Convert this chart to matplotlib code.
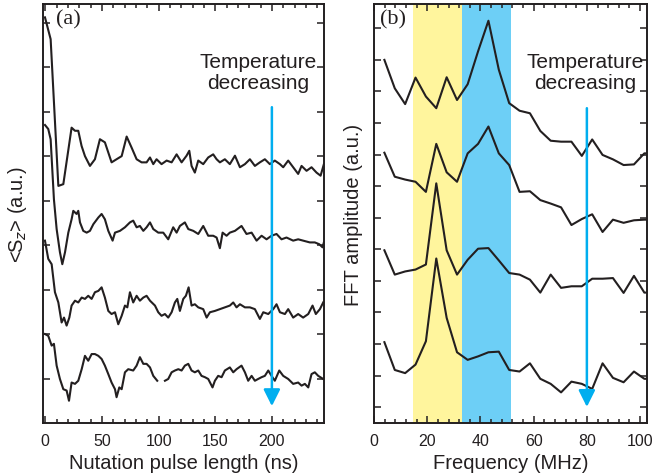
import numpy as np
import matplotlib
matplotlib.use("Agg")
import matplotlib.pyplot as plt
from matplotlib.ticker import MultipleLocator

plt.rcParams['font.family'] = ['Liberation Sans', 'DejaVu Sans']

# ---------------- panel (a): nutation traces (ns, a.u.) ----------------
t1_x = [-0.3, 4.7, 11.5, 15.9, 23.2, 26.2, 29.1, 32.0, 35.0, 39.4, 43.8, 48.2, 52.6, 58.5, 62.9,
        67.4, 71.8, 76.2, 80.6, 85.0, 89.4, 92.4, 95.3, 98.2, 102.6, 107.1, 111.5, 115.9, 120.3,
        124.7, 127.1, 129.1, 132.0, 135.0, 139.4, 143.8, 148.2, 151.2, 154.1, 158.5, 162.9, 167.4,
        171.8, 176.2, 180.6, 185.0, 189.4, 193.8, 198.2, 202.6, 207.1, 210.0, 214.4, 218.8, 223.2,
        226.2, 230.6, 235.0, 239.4, 243.0, 245.9]
t1_y = [9.12, 8.63, 5.33, 5.37, 6.64, 6.57, 6.57, 6.23, 6.00, 5.78, 5.93, 6.38, 6.31, 5.86, 5.93,
        6.00, 6.44, 6.19, 5.93, 5.86, 5.86, 5.97, 5.82, 5.93, 5.82, 5.90, 5.86, 6.04, 5.86,
        6.01, 6.12, 5.78, 5.63, 5.90, 5.82, 5.97, 6.04, 5.93, 5.86, 5.93, 5.82, 6.01,
        5.75, 5.82, 5.93, 5.78, 5.86, 5.93, 5.82, 5.90, 5.82, 5.75, 5.90, 5.75, 5.60,
        5.78, 5.67, 5.75, 5.63, 5.56, 5.82]

t2_x = [-0.3, 2.6, 4.7, 7.6, 10.0, 12.9, 15.0, 17.4, 20.3, 23.2, 24.7, 27.6, 29.1, 30.6, 33.5,
        36.5, 39.4, 42.4, 46.8, 49.7, 52.6, 55.6, 59.4, 61.5, 65.9, 70.3, 74.7, 77.6, 80.6, 83.5,
        86.5, 89.4, 92.4, 95.3, 99.7, 104.1, 108.5, 112.9, 115.9, 118.8, 123.2, 126.2, 130.6,
        135.0, 139.4, 143.8, 148.2, 151.2, 154.1, 156.5, 160.0, 162.9, 167.4, 173.2, 177.6, 182.1,
        186.5, 190.9, 195.3, 199.7, 204.1, 208.5, 212.9, 218.8, 223.2, 227.6, 233.5, 237.9, 241.8,
        244.7, 245.9]
t2_y = [6.70, 6.61, 6.38, 5.03, 4.36, 3.84, 3.57, 3.84, 4.28, 4.58, 4.77, 4.70, 4.77, 4.51, 4.32,
        4.28, 4.32, 4.47, 4.62, 4.70, 4.58, 4.32, 4.10, 4.28, 4.32, 4.40, 4.51, 4.55, 4.40, 4.43,
        4.32, 4.40, 4.51, 4.36, 4.28, 4.28, 4.13, 4.40, 4.28, 4.43, 4.51, 4.36, 4.32,
        4.25, 4.43, 4.21, 4.21, 4.17, 3.93, 4.28, 4.21, 4.28, 4.32, 4.43, 4.25, 4.28,
        4.10, 4.21, 4.13, 4.21, 4.25, 4.13, 4.17, 4.10, 4.13, 4.10, 4.06, 4.06, 4.02,
        3.95, 4.06]

t3_x = [-0.3, 2.6, 5.6, 8.5, 11.5, 14.4, 16.5, 18.8, 21.2, 23.2, 26.2, 29.1, 32.1, 35.0, 37.9,
        40.9, 43.8, 46.8, 49.7, 52.6, 55.6, 58.5, 61.5, 64.4, 67.4, 70.3, 72.4, 74.7, 77.6, 80.6,
        83.5, 86.5, 89.4, 92.4, 96.8, 99.7, 102.6, 105.6, 108.5, 111.5, 114.4, 116.5, 118.8,
        121.8, 124.1, 126.5, 129.1, 132.0, 135.0, 139.4, 142.4, 145.3, 149.7, 154.1, 158.5,
        162.9, 165.9, 168.8, 171.8, 176.2, 180.6, 185.0, 189.4, 192.4, 196.8, 201.2, 204.1,
        207.1, 211.5, 214.4, 218.8, 223.2, 227.6, 232.1, 235.9, 238.8, 242.4, 245.3]
t3_y = [4.10, 3.69, 3.57, 2.94, 2.71, 2.26, 2.37, 2.19, 2.37, 2.64, 2.75, 2.71, 2.82, 2.79, 2.86,
        2.79, 2.94, 2.97, 3.05, 2.82, 2.52, 2.45, 2.49, 2.22, 2.41, 2.64, 2.60, 2.94, 2.71, 2.86,
        2.75, 2.82, 2.86, 2.75, 2.64, 2.49, 2.41, 2.45, 2.37, 2.49, 2.71, 2.79, 2.52,
        2.79, 2.86, 3.05, 2.64, 2.67, 2.60, 2.56, 2.37, 2.49, 2.52, 2.56, 2.60,
        2.64, 2.71, 2.60, 2.67, 2.60, 2.60, 2.56, 2.34, 2.49, 2.45, 2.56, 2.67,
        2.49, 2.45, 2.56, 2.37, 2.45, 2.37, 2.45, 2.64, 2.45, 2.56, 2.71]

t4_x = [-0.3, 2.6, 5.6, 7.6, 10.0, 12.9, 15.9, 18.8, 20.9, 23.2, 26.2, 29.1, 32.1, 35.0, 37.9,
        40.9, 43.8, 46.8, 49.7, 52.6, 55.6, 58.5, 61.5, 62.9, 65.3, 67.4, 70.3, 73.2, 77.6, 80.6,
        83.5, 86.5, 89.4, 92.4, 95.3, 98.8, 102.0, 105.6, 108.5, 111.5, 114.4, 117.4, 120.3,
        123.2, 126.2, 129.1, 132.0, 135.0, 137.9, 140.9, 143.8, 147.6, 149.7, 152.6, 155.6,
        158.5, 162.9, 165.9, 168.8, 173.2, 176.2, 179.1, 182.1, 185.0, 187.9, 190.9, 193.8,
        196.8, 199.7, 202.6, 206.5, 210.0, 214.4, 218.8, 223.2, 226.2, 229.1, 232.1, 235.0,
        237.9, 240.9, 245.3]
t4_y = [2.00, 1.96, 1.74, 1.78, 1.29, 0.99, 0.76, 0.73, 0.50, 0.91, 0.88, 0.95, 1.21, 1.51, 1.40,
        1.55, 1.55, 1.51, 1.44, 1.29, 1.10, 0.91, 0.76, 0.58, 0.80, 0.76, 1.14, 1.21, 1.18, 1.29,
        1.48, 1.33, 1.33, 1.25, 1.06, 0.95, np.nan, 0.95, 0.99, 1.14, 1.18, 1.21, 1.18,
        1.29, 1.33, 1.18, 1.14, 1.18, 1.06, 1.03, 0.99, 0.80, 0.95, 1.06, 1.03,
        1.18, 1.25, 1.14, 1.21, 1.29, 1.14, 0.95, 1.06, 0.95, 0.99, 1.03, 1.06,
        1.18, 1.06, 0.95, 1.18, 1.06, 0.99, 0.88, 0.91, 0.84, 0.88, 0.80, 1.10,
        1.14, 1.06, 0.99]

# ---------------- panel (b): FFT spectra (MHz, a.u.) ----------------
freq = [3.9, 7.8, 11.7, 15.6, 19.5, 23.4, 27.3, 31.2, 35.2, 39.1, 43.0, 46.9, 50.8,
        54.7, 58.6, 62.5, 66.4, 70.3, 74.2, 78.1, 82.0, 85.9, 89.8, 93.8, 97.7, 101.6, 105.5]
f1 = [11.50, 10.60, 10.10, 10.94, 10.34, 9.97, 10.95, 10.23, 10.73, 11.77, 12.74, 11.19, 10.13,
      9.89, 9.81, 9.25, 8.94, 8.91, 8.91, 8.46, 8.98, 8.49, 8.35, 8.17, 8.19, 8.54, 8.54]
f2 = [8.56, 7.80, 7.71, 7.64, 7.32, 8.84, 7.94, 7.64, 8.54, 8.84, 9.39, 8.54, 8.17,
      7.32, 7.34, 7.06, 6.95, 6.83, 6.27, 6.46, 6.61, 6.05, 6.44, 6.34, 6.42, 6.44, 6.44]
f3 = [5.47, 4.70, 4.80, 4.86, 5.02, 7.59, 5.47, 4.70, 5.17, 5.52, 5.54, 5.15, 4.75,
      4.70, 4.54, 4.13, 4.70, 4.28, 4.33, 4.33, 4.57, 4.57, 4.59, 4.12, 4.66, 4.13, 4.13]
f4 = [2.56, 1.68, 1.58, 1.85, 2.59, 5.21, 3.33, 2.24, 2.00, 2.11, 2.24, 2.26, 1.68,
      1.63, 1.89, 1.40, 1.24, 0.97, 1.31, 1.24, 1.08, 1.89, 1.43, 1.29, 1.63, 1.40, 1.40]

band_yellow = (14.7, 33.2)
band_blue = (33.2, 51.6)

ink = '#231F20'
cyan = '#00AEEF'

fig = plt.figure(figsize=(6.54, 4.77), dpi=100)
axA = fig.add_axes([0.0653, 0.1111, 0.4301, 0.8784])
axB = fig.add_axes([0.5719, 0.1111, 0.4174, 0.8784])

for x, y in [(t1_x, t1_y), (t2_x, t2_y), (t3_x, t3_y), (t4_x, t4_y)]:
    axA.plot(x, y, color=ink, lw=1.5)

axB.axvspan(*band_yellow, color='#FFF59D', lw=0, zorder=0)
axB.axvspan(*band_blue, color='#6DCFF6', lw=0, zorder=0)
for y in [f1, f2, f3, f4]:
    axB.plot(freq, y, color=ink, lw=1.5)

axA.set_xlim(-2.3, 246)
axA.set_ylim(0, 9.42)
axB.set_xlim(0, 102.6)
axB.set_ylim(0, 13.27)

axA.xaxis.set_major_locator(MultipleLocator(50))
axA.xaxis.set_minor_locator(MultipleLocator(10))
axA.set_yticks(np.arange(1, 10))
axB.xaxis.set_major_locator(MultipleLocator(20))
axB.xaxis.set_minor_locator(MultipleLocator(4))
axB.set_yticks(np.arange(0.5, 13, 1.0))

for ax in (axA, axB):
    ax.tick_params(which='both', direction='in', top=True, right=True, color=ink,
                   labelsize=11.5, labelcolor=ink, pad=7)
    ax.tick_params(which='major', length=5, width=1.1)
    ax.tick_params(which='minor', length=3, width=1.1)
    ax.tick_params(axis='y', labelleft=False)
    for s in ax.spines.values():
        s.set_linewidth(1.4)
        s.set_color(ink)

axA.set_xlabel('Nutation pulse length (ns)', fontsize=14.5, color=ink, labelpad=4)
axA.set_ylabel(r'<S$_z$> (a.u.)', fontsize=14.5, color=ink, labelpad=10)
axB.set_xlabel('Frequency (MHz)', fontsize=14.5, color=ink, labelpad=4)
axB.set_ylabel('FFT amplitude (a.u.)', fontsize=14.5, color=ink, labelpad=8)

arrow = dict(arrowstyle='-|>,head_length=1.0,head_width=0.5', color=cyan, lw=1.8,
             mutation_scale=10, shrinkA=0, shrinkB=0)
axA.annotate('', xy=(200, 0.38), xytext=(200, 7.10), arrowprops=arrow)
axB.annotate('', xy=(80, 0.51), xytext=(80, 9.97), arrowprops=arrow)

for ax, xc in [(axA, 0.765), (axB, 0.775)]:
    ax.text(xc, 0.838, 'Temperature\ndecreasing', transform=ax.transAxes, ha='center',
            va='center', fontsize=15, color=ink, linespacing=1.1)

axA.text(0.047, 0.988, '(a)', transform=axA.transAxes, ha='left', va='top',
         fontsize=16, family='Liberation Serif', color=ink)
axB.text(0.022, 0.988, '(b)', transform=axB.transAxes, ha='left', va='top',
         fontsize=16, family='Liberation Serif', color=ink)

fig.savefig('out.png', dpi=100)
